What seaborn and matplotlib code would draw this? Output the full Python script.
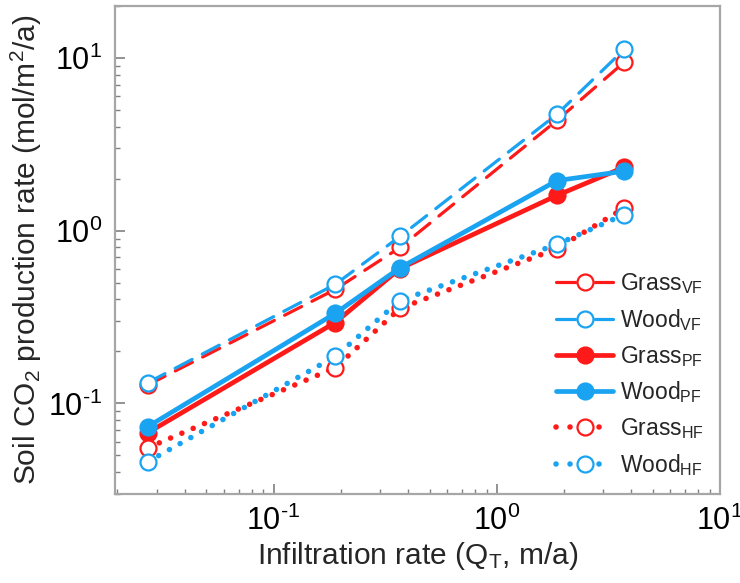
import matplotlib
matplotlib.use("Agg")
import matplotlib.pyplot as plt
import seaborn as sns
import pandas as pd
import numpy as np
from matplotlib.lines import Line2D
from matplotlib.ticker import LogLocator, NullFormatter, FuncFormatter

# ---- data ----
infiltration = [0.0274, 0.189, 0.369, 1.86, 3.72]
grass_vf = [0.128, 0.457, 0.80, 4.35, 9.45]
wood_vf = [0.132, 0.489, 0.927, 4.72, 11.2]
grass_pf = [0.0677, 0.294, 0.604, 1.60, 2.33]
wood_pf = [0.0734, 0.332, 0.610, 1.95, 2.21]
grass_hf = [0.0554, 0.161, 0.355, 0.788, 1.35]
wood_hf = [0.0460, 0.187, 0.394, 0.833, 1.24]

series_names = ["Grass$_{\\mathrm{VF}}$", "Wood$_{\\mathrm{VF}}$",
                "Grass$_{\\mathrm{PF}}$", "Wood$_{\\mathrm{PF}}$",
                "Grass$_{\\mathrm{HF}}$", "Wood$_{\\mathrm{HF}}$"]
series_values = [grass_vf, wood_vf, grass_pf, wood_pf, grass_hf, wood_hf]

sns.set_style("white")
plt.rcParams["font.family"] = ["Liberation Sans", "DejaVu Sans"]
plt.rcParams["mathtext.fontset"] = "custom"
plt.rcParams["mathtext.rm"] = "Liberation Sans"
plt.rcParams["mathtext.it"] = "Liberation Sans:italic"
plt.rcParams["mathtext.bf"] = "Liberation Sans:bold"
plt.rcParams["axes.unicode_minus"] = False

RED = "#FF1A1A"
BLUE = "#1AA3F0"

DASH = (0, (6, 3.6))
DOT = (0, (0.01, 2.2))
LEG_DASH = (0, (6, 6.2))
LEG_DOT = (0, (0.01, 2.51, 0.01, 5.21))
styles = [
    dict(color=RED, linestyle=DASH, leg_ls=LEG_DASH, lw=2.3, mfc="white"),
    dict(color=BLUE, linestyle=DASH, leg_ls=LEG_DASH, lw=2.3, mfc="white"),
    dict(color=RED, linestyle="-", leg_ls="-", lw=3.4, mfc=RED),
    dict(color=BLUE, linestyle="-", leg_ls="-", lw=3.4, mfc=BLUE),
    dict(color=RED, linestyle=DOT, leg_ls=LEG_DOT, lw=4.0, mfc="white"),
    dict(color=BLUE, linestyle=DOT, leg_ls=LEG_DOT, lw=4.0, mfc="white"),
]

fig = plt.figure(figsize=(7.4, 5.83), dpi=100)
ax = fig.add_axes([0.1554, 0.1532, 0.9730 - 0.1554, 0.9897 - 0.1532])

MS = 11.5
MEW = 1.6
handles = []
for name, vals, st in zip(series_names, series_values, styles):
    df = pd.DataFrame({"x": infiltration, "y": vals})
    sns.lineplot(data=df, x="x", y="y", ax=ax, color=st["color"],
                 linestyle=st["linestyle"], linewidth=st["lw"],
                 marker="o", markersize=MS, markerfacecolor=st["mfc"],
                 markeredgecolor=st["color"], markeredgewidth=MEW,
                 dash_capstyle="round", errorbar=None, label=name, legend=False)
    handles.append(Line2D([], [], color=st["color"], linestyle=st["leg_ls"],
                          linewidth=st["lw"], marker="o", markersize=MS,
                          markerfacecolor=st["mfc"], markeredgecolor=st["color"],
                          markeredgewidth=MEW, dash_capstyle="round"))

ax.set_xscale("log")
ax.set_yscale("log")
ax.set_xlim(0.0195, 10)
ax.set_ylim(0.03, 20)


def sci(v, pos):
    e = int(round(np.log10(v)))
    if e < 0:
        return "$10^{\\text{-%d}}$" % (-e)
    return "$10^{%d}$" % e


ax.xaxis.set_major_locator(LogLocator(base=10, numticks=10))
ax.yaxis.set_major_locator(LogLocator(base=10, numticks=10))
ax.xaxis.set_major_formatter(FuncFormatter(sci))
ax.yaxis.set_major_formatter(FuncFormatter(sci))
ax.xaxis.set_minor_locator(LogLocator(base=10, subs=range(2, 10), numticks=20))
ax.yaxis.set_minor_locator(LogLocator(base=10, subs=range(2, 10), numticks=20))
ax.xaxis.set_minor_formatter(NullFormatter())
ax.yaxis.set_minor_formatter(NullFormatter())

spine_c = "#A6A6A6"
for s in ax.spines.values():
    s.set_color(spine_c)
    s.set_linewidth(1.6)
ax.tick_params(which="both", bottom=True, left=True, top=False, right=False)
ax.tick_params(which="major", direction="in", length=7, width=1.2, color="#808080",
               labelsize=22, pad=9, labelcolor="black")
ax.tick_params(which="minor", direction="in", length=3.8, width=1.0, color="#808080")

ax.set_xlabel("Infiltration rate (Q$_{\\mathrm{T}}$, m/a)", fontsize=21.5, labelpad=2)
ax.set_ylabel("Soil CO$_{2}$ production rate (mol/m$^{2}$/a)", fontsize=21.5, labelpad=3)

leg = ax.legend(handles=handles, labels=series_names, loc="lower right",
                frameon=False, fontsize=16.5, handlelength=2.5, handletextpad=0.3,
                labelspacing=0.47, borderaxespad=0.3, bbox_to_anchor=(1.0, 0.0))

fig.savefig("out.png", dpi=100)
